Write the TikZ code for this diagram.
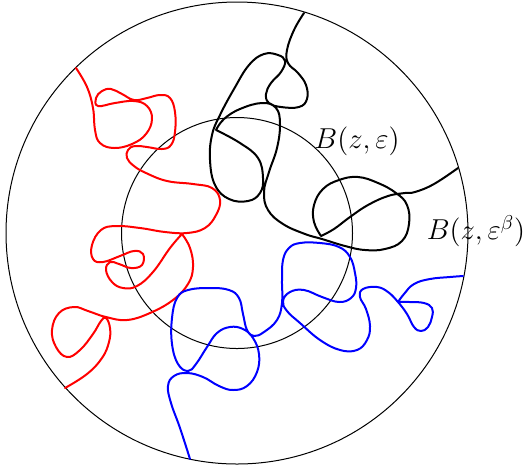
\documentclass[tikz,border=0pt]{standalone}
\usepackage{amsmath,amssymb}
\usepackage{xcolor}
\usepackage{tikz}

\begin{document}
\begin{tikzpicture}[
  x=0.5pt,y=-0.5pt,
  ball/.style={draw=black,line width=0.5pt},
  walk/.style={line width=1pt,line cap=round,line join=round},
  lbl/.style={font=\fontsize{14}{16}\selectfont,inner sep=0pt}
]
\useasboundingbox (0,0) rectangle (524,468);
\coordinate (z) at (237,233);
\draw[ball] (z) circle (231);
\draw[ball] (z) circle (115.5);

\draw[walk,black] plot[smooth,tension=0.7] coordinates {(304,13) (294,30) (287,50) (288,63) (298,73) (306,85) (307,99) (299,107) (281,107) (269,103) (266,94) (271,83) (281,72) (285,61) (278,55) (264,54) (249,65) (234,89) (220,115) (212,135) (210,160) (215,185) (229,199) (248,201) (260,193) (263,178) (258,158) (240,143) (216,130)}
  plot[smooth,tension=0.7] coordinates {(216,130) (224,119) (240,109) (262,103) (276,108) (280,124) (277,148) (269,172) (264,192) (268,210) (283,224) (305,234) (322,239) (345,246) (365,250) (385,249) (402,241) (409,224) (407,205) (396,193) (378,183) (358,177) (339,180) (323,189) (314,205) (314,222) (321,236)}
  plot[smooth,tension=0.7] coordinates {(321,236) (334,229) (350,217) (368,205) (388,196) (405,193) (415,192) (434,184) (458,168)};

\draw[walk,red] plot[smooth,tension=0.7] coordinates {(76,68) (87,87) (93,108) (95,130) (100,143) (114,148) (132,144) (146,134) (152,119) (147,106) (134,101) (115,103) (98,106) (96,98) (102,91) (111,89) (122,94) (134,100) (147,98) (160,95) (170,98) (175,112) (175,132) (171,145) (162,149) (147,147) (135,146) (128,150) (127,158) (134,166) (146,173) (167,181) (193,184) (212,188) (220,200) (216,215) (205,228) (187,233) (165,232) (140,228) (116,226) (101,230) (92,245) (93,259) (103,262) (120,256) (134,251) (143,254) (142,265) (131,268) (119,264) (110,262) (106,270) (112,282) (123,288) (137,286) (153,272) (170,248) (182,234)}
  plot[smooth,tension=0.7] coordinates {(182,234) (190,248) (193,267) (188,284) (173,300) (150,313) (127,320) (106,317) (88,311) (74,307) (59,313) (52,330) (56,347) (67,357) (80,350) (93,334) (101,321) (106,318) (110,328) (109,342) (102,358) (87,374) (65,388)};

\draw[walk,blue] plot[smooth,tension=0.7] coordinates {(190,459) (180,428) (171,403) (168,386) (174,376) (187,373) (203,377) (219,386) (233,390) (247,386) (257,372) (259,354) (253,338) (243,329) (230,327) (217,333) (207,347) (196,364) (188,371) (178,364) (172,344) (172,318) (177,298) (188,290) (210,288) (229,290) (239,298) (243,314) (247,330) (254,336) (264,332) (277,320) (282,303) (282,280) (283,260) (289,248) (300,243) (320,243) (339,247) (350,257) (355,273) (356,288) (351,298) (339,302) (322,297) (304,290) (290,292) (283,301) (287,311) (300,323) (320,340) (340,350) (357,350) (367,340) (370,326) (366,309) (360,297) (363,289) (377,287) (388,292) (398,302) (407,314) (414,327) (421,331) (428,327) (432,317) (432,308) (424,303) (410,302) (398,302)}
  plot[smooth,tension=0.7] coordinates {(398,302) (404,294) (414,284) (430,279) (450,277) (463,276)};

\node[lbl] (small) at (357,141) {$B(z,\varepsilon)$};
\node[lbl] (big) at (476,231) {$B(z,\varepsilon^\beta)$};
\end{tikzpicture}
\end{document}
